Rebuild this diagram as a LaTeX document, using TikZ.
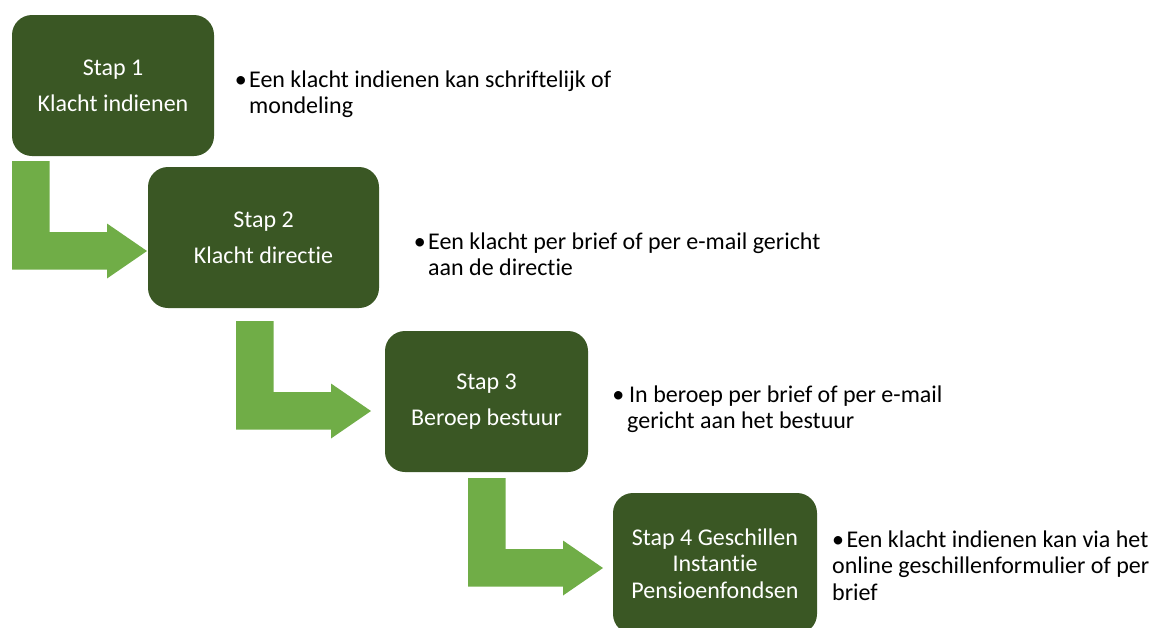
\documentclass[tikz,border=0pt]{standalone}
\usepackage{fontspec}
\setmainfont{Carlito}[Ligatures=NoCommon]
\definecolor{boxgreen}{RGB}{58,87,36}
\definecolor{arrowgreen}{RGB}{112,173,71}
\begin{document}
\begin{tikzpicture}[x=1pt,y=-1pt,
  stepbox/.style={fill=boxgreen, draw=none, rounded corners=20pt, text=white,
    align=center, inner sep=0pt, minimum height=141pt,
    font=\fontsize{24}{26.5}\selectfont},
  note/.style={anchor=base west, inner sep=0pt, text width=600pt, align=flush left,
    font=\fontsize{24}{26.5}\selectfont, text=black},
  pics/bentarrow/.style={code={
    \fill[arrowgreen] (0,0) -- (37.5,0) -- (37.5,71) -- (95,71) -- (95,62.5)
      -- (135,90) -- (95,117.5) -- (95,108.5) -- (0,108.5) -- cycle;}}]
\useasboundingbox (0,0) rectangle (1166,627);

% steps
\node[stepbox, minimum width=202pt] (s1) at (113,85.5) {Stap 1\\[9.5pt]Klacht indienen};
\node[stepbox, minimum width=231pt] (s2) at (263.5,237.5) {Stap 2\\[9.5pt]Klacht directie};
\node[stepbox, minimum width=203pt] (s3) at (486.5,401.5) {Stap 3\\[9.5pt]Beroep bestuur};
\node[stepbox, minimum width=204pt] (s4) at (715,563.5) {Stap 4 Geschillen\\Instantie\\Pensioenfondsen};

% bent arrows
\coordinate (a1) at (12,161);
\coordinate (a2) at (236,321);
\coordinate (a3) at (468,478);
\pic at (a1) {bentarrow};
\pic at (a2) {bentarrow};
\pic at (a3) {bentarrow};

% notes
\node[note] (t1) at (249,87) {\llap{•\kern2.5pt}Een klacht indienen kan schriftelijk of\\mondeling};
\node[note] (t2) at (428,249) {\llap{•\kern2.5pt}Een klacht per brief of per e-mail gericht\\aan de directie};
\node[note] (t3) at (627,402) {\llap{•\kern3pt}\kern2pt In beroep per brief of per e-mail\\gericht aan het bestuur};
\node[note] (t4) at (832,547) {•\kern2.5pt Een klacht indienen kan via het\\online geschillenformulier of per\\brief};
\end{tikzpicture}
\end{document}
